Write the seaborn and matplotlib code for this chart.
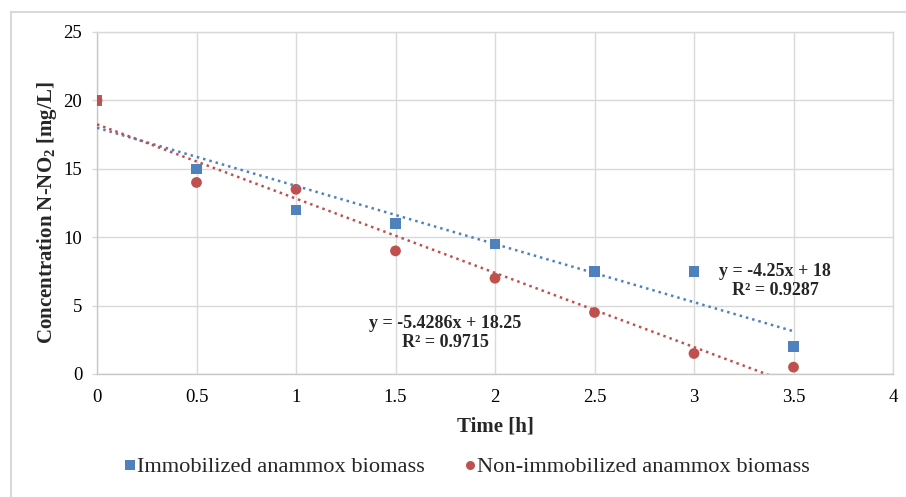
import numpy as np
import pandas as pd
import matplotlib
matplotlib.use("Agg")
import matplotlib.pyplot as plt
import seaborn as sns
from matplotlib.lines import Line2D
from matplotlib.patches import Rectangle

# 数据
time_h = [0, 0.5, 1, 1.5, 2, 2.5, 3, 3.5]
immobilized = [20, 15, 12, 11, 9.5, 7.5, 7.5, 2]
non_immobilized = [20, 14, 13.5, 9, 7, 4.5, 1.5, 0.5]
series_names = ["Immobilized anammox biomass", "Non-immobilized anammox biomass"]
x_ticks = [0, 0.5, 1, 1.5, 2, 2.5, 3, 3.5, 4]
x_tick_labels = ["0", "0.5", "1", "1.5", "2", "2.5", "3", "3.5", "4"]
y_ticks = [0, 5, 10, 15, 20, 25]
eq_labels = ["y = -4.25x + 18\nR² = 0.9287", "y = -5.4286x + 18.25\nR² = 0.9715"]

sns.set_style("white")
plt.rcParams['font.family'] = ['Liberation Serif', 'DejaVu Serif']
plt.rcParams['mathtext.fontset'] = 'custom'
plt.rcParams['mathtext.rm'] = 'Liberation Serif'
plt.rcParams['mathtext.bf'] = 'Liberation Serif:bold'

colors = ["#4f81bd", "#c0504d"]
markers = ["s", "o"]

df = pd.DataFrame({
    "time": time_h * 2,
    "conc": immobilized + non_immobilized,
    "series": [series_names[0]] * len(time_h) + [series_names[1]] * len(time_h),
})

fig = plt.figure(figsize=(9.06, 4.97), dpi=100)
ax = fig.add_axes([97 / 906, 1 - 374 / 497, (893 - 97) / 906, (374 - 32) / 497])

# 外框
fig.patches.append(Rectangle((11 / 906, -0.1), 1.2, 1.1 - 12 / 497, transform=fig.transFigure,
                             fill=False, edgecolor="#d9d9d9", lw=1.5, zorder=0))

for i, name in enumerate(series_names):
    sub = df[df.series == name]
    sns.scatterplot(data=sub, x="time", y="conc", color=colors[i], marker=markers[i],
                    s=58 if i == 0 else 60, edgecolor="none", ax=ax, zorder=3 + i, legend=False)

# 趋势线
for i, name in enumerate(series_names):
    sub = df[df.series == name]
    sns.regplot(data=sub, x="time", y="conc", ci=None, scatter=False, truncate=True, ax=ax,
                line_kws=dict(color=colors[i], lw=1.8, linestyle=(0, (1, 1.6)), zorder=6))

ax.set_xlim(0, 4)
ax.set_ylim(0, 25)
ax.set_xticks(x_ticks)
ax.set_xticklabels(x_tick_labels)
ax.set_yticks(y_ticks)
ax.tick_params(axis="both", labelsize=13.5, colors="#000000")
ax.tick_params(axis="y", length=3.6, width=1, color="#d9d9d9", pad=7, direction="out", left=True)
ax.tick_params(axis="x", length=0, pad=10.5)
ax.grid(True, color="#d9d9d9", lw=1)
ax.set_axisbelow(True)
for side in ["top", "right"]:
    ax.spines[side].set_color("#d9d9d9")
for side in ["left", "bottom"]:
    ax.spines[side].set_color("#c8c8c8")
for s in ax.spines.values():
    s.set_linewidth(1)

ax.set_xlabel("Time [h]", fontsize=15, fontweight="bold", labelpad=8)
ax.set_ylabel(r"Concentration N-NO$_\mathbf{2}$ [mg/L]", fontsize=15, fontweight="bold")
ax.yaxis.set_label_coords(-0.048, 0.472)

ax.text(3.407, 6.8, eq_labels[0], ha="center", va="center", fontsize=13, fontweight="bold",
        multialignment="center", linespacing=1.2, zorder=7)
ax.text(1.749, 3.0, eq_labels[1], ha="center", va="center", fontsize=13, fontweight="bold",
        multialignment="center", linespacing=1.2, zorder=7)

handles = [Line2D([], [], ls="none", marker=markers[i], color=colors[i], markersize=7 if i == 0 else 6.5,
                  markeredgewidth=0) for i in range(2)]
fig.legend(handles, series_names, loc="center", bbox_to_anchor=(0.5155, 1 - 467 / 497), ncol=2,
           frameon=False, fontsize=16.1, handletextpad=0.07, columnspacing=1.8, handlelength=0.5)

plt.savefig("out.png", dpi=100)
